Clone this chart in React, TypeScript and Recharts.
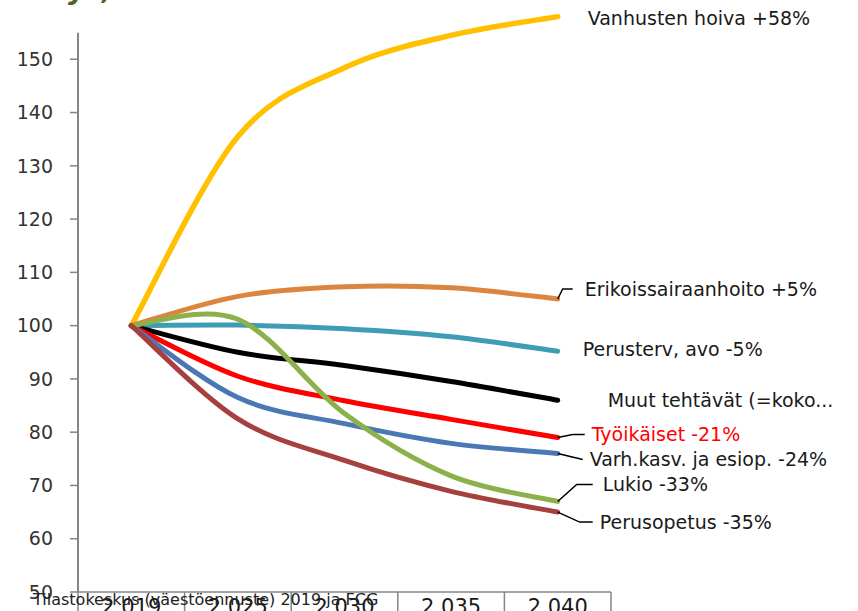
import React from 'react';
import { LineChart, Line, XAxis, YAxis, ReferenceArea, LabelList } from 'recharts';

const categories = ['2 019', '2 025', '2 030', '2 035', '2 040'];
const yTicks = [50, 60, 70, 80, 90, 100, 110, 120, 130, 140, 150];

const vanhustenHoiva = [100, 135.5, 148.4, 154.5, 158];
const erikoissairaanhoito = [100, 105.5, 107.3, 107.1, 105];
const perusterv = [100, 100.1, 99.4, 97.9, 95.2];
const muutTehtavat = [100, 95, 92.5, 89.5, 86];
const tyoikaiset = [100, 90.5, 85.9, 82.4, 79];
const varhkasv = [100, 86.5, 81.6, 77.9, 76];
const lukio = [100, 101.2, 83.5, 71.8, 67];
const perusopetus = [100, 82.5, 74.7, 68.9, 65];

const seriesNames = [
  'Vanhusten hoiva +58%',
  'Erikoissairaanhoito +5%',
  'Perusterv, avo -5%',
  'Muut tehtävät (=koko...',
  'Työikäiset -21%',
  'Varh.kasv. ja esiop. -24%',
  'Lukio -33%',
  'Perusopetus -35%',
];
const seriesValues = [
  vanhustenHoiva, erikoissairaanhoito, perusterv, muutTehtavat,
  tyoikaiset, varhkasv, lukio, perusopetus,
];

const sourceText = 'Tilastokeskus (väestöennuste) 2019 ja FCG';

// styles and end-label placement (offsets from the last point)
const COLORS = ['#FFC000', '#DC853F', '#3E9DB5', '#000000', '#FF0000', '#4A78B5', '#8CB04A', '#A6403E'];
const LABEL_POS = [
  { dx: 30, dy: 2, leader: [] as number[][] },
  { dx: 27, dy: -10, leader: [[5, -10], [15, -10]] },
  { dx: 25, dy: -2, leader: [] },
  { dx: 50, dy: 0, leader: [] },
  { dx: 34, dy: -3, leader: [[15, -3], [27, -3]] },
  { dx: 32, dy: 6, leader: [[25, 6]] },
  { dx: 45, dy: -17, leader: [[19, -17], [35, -17]] },
  { dx: 42, dy: 10, leader: [[22, 10], [35, 10]] },
];

const FONT = '"DejaVu Sans", sans-serif';

const data = categories.map((year, i) => {
  const row: Record<string, any> = { year };
  seriesValues.forEach((vals, s) => { row['s' + s] = vals[i]; });
  return row;
});

// Excel-style smoothed line (Catmull-Rom through the points)
const excelCurve = (context: any) => {
  let xs: number[] = [];
  let ys: number[] = [];
  return {
    areaStart() {},
    areaEnd() {},
    lineStart() { xs = []; ys = []; },
    point(x: number, y: number) { xs.push(+x); ys.push(+y); },
    lineEnd() {
      const n = xs.length;
      if (!n) return;
      context.moveTo(xs[0], ys[0]);
      for (let i = 0; i < n - 1; i++) {
        const a = Math.max(i - 1, 0);
        const d = Math.min(i + 2, n - 1);
        context.bezierCurveTo(
          xs[i] + (xs[i + 1] - xs[a]) / 6, ys[i] + (ys[i + 1] - ys[a]) / 6,
          xs[i + 1] - (xs[d] - xs[i]) / 6, ys[i + 1] - (ys[d] - ys[i]) / 6,
          xs[i + 1], ys[i + 1],
        );
      }
    },
  };
};

const makeLabel = (s: number) => (props: any) => {
  if (props.index !== categories.length - 1) return null;
  const x = props.viewBox?.x ?? props.x;
  const y = props.viewBox?.y ?? props.y;
  const lp = LABEL_POS[s];
  const pts = [[0, 0], ...lp.leader].map(([dx, dy]) => `${x + dx},${y + dy}`).join(' ');
  return (
    <g>
      {lp.leader.length > 0 && (
        <polyline points={pts} fill="none" stroke="#000" strokeWidth={1.5} />
      )}
      <text x={x + lp.dx} y={y + lp.dy} dy="0.35em" fill={s === 4 ? '#FF0000' : '#1a1a1a'}
        fontSize={19} fontFamily={FONT}>
        {seriesNames[s]}
      </text>
    </g>
  );
};

const XTick = (props: any) => {
  const { x, y, payload, index } = props;
  const half = payload?.offset || 53.3;
  return (
    <g>
      <line x1={x - half} y1={y - 8} x2={x - half} y2={y + 40} stroke="#868686" strokeWidth={1.5} />
      {index === categories.length - 1 && (
        <line x1={x + half} y1={y - 8} x2={x + half} y2={y + 40} stroke="#868686" strokeWidth={1.5} />
      )}
      <text x={x} y={614} textAnchor="middle" fill="#1a1a1a" fontSize={21} fontFamily={FONT}>
        {payload.value}
      </text>
    </g>
  );
};

const AxisLineShape = (props: any) => (
  <line x1={props.x} y1={props.y} x2={props.x} y2={props.y + props.height}
    stroke="#868686" strokeWidth={2} />
);

export default function App() {
  return (
    <div style={{ position: 'absolute', left: 0, top: 0, width: 858, height: 611, overflow: 'hidden', background: '#fff' }}>
      <LineChart width={858} height={640} data={data} margin={{ top: 6, right: 247, left: 0, bottom: 0 }}>
        <XAxis dataKey="year" scale="band" interval={0} height={48} tickLine={false}
          axisLine={{ stroke: '#868686', strokeWidth: 1.5 }} tick={<XTick />} />
        <YAxis type="number" domain={[50, 160]} ticks={yTicks} interval={0} width={78}
          axisLine={false} tickLine={{ stroke: '#868686', strokeWidth: 1.5 }} tickSize={8} tickMargin={17}
          tick={{ fill: '#333', fontSize: 19, fontFamily: FONT }} />
        <ReferenceArea y1={50} y2={155} shape={<AxisLineShape />} ifOverflow="visible" />
        {seriesValues.map((_, s) => (
          <Line key={s} dataKey={'s' + s} type={excelCurve as any} stroke={COLORS[s]}
            strokeWidth={s === 0 ? 5.5 : 5} strokeLinecap="round" dot={false} activeDot={false}
            isAnimationActive={false}>
            <LabelList dataKey={'s' + s} content={makeLabel(s)} />
          </Line>
        ))}
      </LineChart>
      <svg width={858} height={611} style={{ position: 'absolute', left: 0, top: 0, pointerEvents: 'none' }}>
        <text y={-1} fontSize={28} fontWeight="bold" fontStyle="italic" fill="#4F6228" fontFamily={FONT}>
          <tspan x={68}>y</tspan>
          <tspan x={102}>,</tspan>
        </text>
        <text x={33} y={605} fill="#222" fontSize={16} fontFamily={FONT}>{sourceText}</text>
      </svg>
    </div>
  );
}
